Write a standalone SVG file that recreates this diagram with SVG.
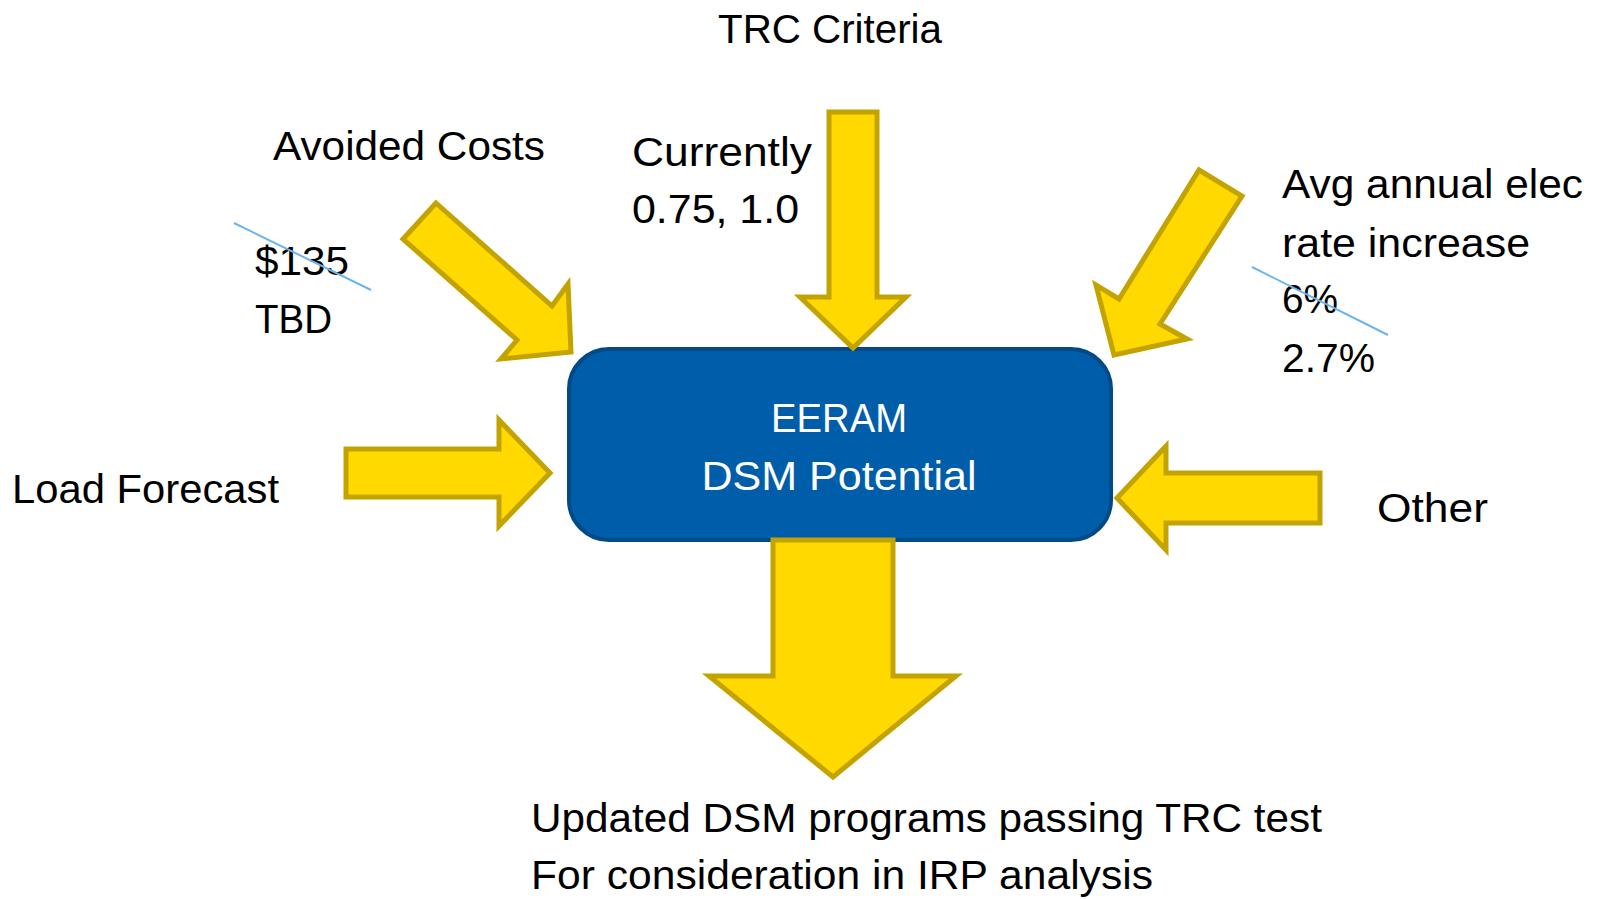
<svg xmlns="http://www.w3.org/2000/svg" width="1598" height="899" viewBox="0 0 1598 899">
<style>
.t{font-family:"Liberation Sans",Arial,sans-serif;font-size:41px;fill:#000}
.w{font-family:"Liberation Sans",Arial,sans-serif;font-size:41px;fill:#fff}
.arr{fill:#FFD900;stroke:#C2A300;stroke-width:5;stroke-linejoin:miter}
.strike{stroke:#6CB4EE;stroke-width:2;fill:none}
</style>
<rect width="1598" height="899" fill="#fff"/>
<g id="node-eeram">
<rect x="569" y="349" width="542" height="191" rx="40" ry="40" fill="#005DAA" stroke="#004A86" stroke-width="4"/>
<text class="w" x="839" y="432" text-anchor="middle" textLength="136" lengthAdjust="spacingAndGlyphs">EERAM</text>
<text class="w" x="839" y="490" text-anchor="middle" textLength="275" lengthAdjust="spacingAndGlyphs">DSM Potential</text>
</g>
<g id="connectors">
<polygon class="arr" points="829,112 877,112 877,297 906,297 853,348 800,297 829,297"/>
<polygon class="arr" points="436,203 552,306 568,284 571,352 501,359 517,340 403,239"/>
<polygon class="arr" points="1199,170 1242,196 1160,324 1187,339 1114,355 1096,285 1119,299"/>
<polygon class="arr" points="346,449 499,449 499,420 550,473 499,526 499,497 346,497"/>
<polygon class="arr" points="1320,473 1166,473 1166,446 1117,498 1166,550 1166,523 1320,523"/>
<polygon class="arr" points="773,540 893,540 893,676 956,676 833,777 709,676 773,676"/>
</g>
<g id="label-trc">
<text class="t" x="718" y="43" textLength="224" lengthAdjust="spacingAndGlyphs">TRC Criteria</text>
<text class="t" x="632" y="166" textLength="180" lengthAdjust="spacingAndGlyphs">Currently</text>
<text class="t" x="632" y="223" textLength="167" lengthAdjust="spacingAndGlyphs">0.75, 1.0</text>
</g>
<g id="label-avoided">
<text class="t" x="273" y="160" textLength="272" lengthAdjust="spacingAndGlyphs">Avoided Costs</text>
<text class="t" x="255" y="275" textLength="94" lengthAdjust="spacingAndGlyphs">$135</text>
<text class="t" x="255" y="333" textLength="77" lengthAdjust="spacingAndGlyphs">TBD</text>
<line class="strike" x1="234" y1="223" x2="371" y2="290"/>
</g>
<g id="label-rate">
<text class="t" x="1282" y="198" textLength="301" lengthAdjust="spacingAndGlyphs">Avg annual elec</text>
<text class="t" x="1282" y="257" textLength="248" lengthAdjust="spacingAndGlyphs">rate increase</text>
<text class="t" x="1282" y="313" textLength="56" lengthAdjust="spacingAndGlyphs">6%</text>
<text class="t" x="1282" y="372" textLength="93" lengthAdjust="spacingAndGlyphs">2.7%</text>
<line class="strike" x1="1252" y1="267" x2="1388" y2="335"/>
</g>
<g id="label-load">
<text class="t" x="12" y="503" textLength="267" lengthAdjust="spacingAndGlyphs">Load Forecast</text>
</g>
<g id="label-other">
<text class="t" x="1377" y="522" textLength="111" lengthAdjust="spacingAndGlyphs">Other</text>
</g>
<g id="label-output">
<text class="t" x="531" y="832" textLength="791" lengthAdjust="spacingAndGlyphs">Updated DSM programs passing TRC test</text>
<text class="t" x="531" y="889" textLength="622" lengthAdjust="spacingAndGlyphs">For consideration in IRP analysis</text>
</g>
</svg>
